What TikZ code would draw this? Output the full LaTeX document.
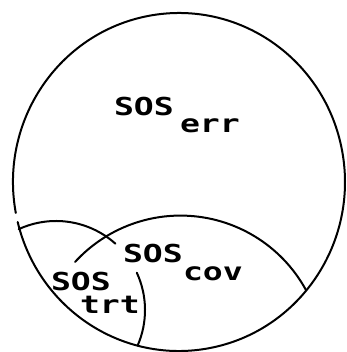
\documentclass[tikz,border=0pt]{standalone}
\usepackage{fontspec}
% wide typewriter-like face for the set labels
\newfontfamily\typewriter[FakeStretch=1.34]{DejaVu Sans Mono}
\begin{document}
\begin{tikzpicture}[x=1pt, y=-1pt, line width=2pt, line cap=round, line join=round,
  lbl/.style={font=\typewriter\bfseries\fontsize{24.7}{28}\selectfont, inner sep=0pt, anchor=base west}]
\useasboundingbox (0,0) rectangle (346,352);

% outer set, with a small break on the left
\coordinate (outerA) at (15.8,213.0);
\draw (outerA) arc[start angle=169.43, end angle=526.31, x radius=166, y radius=169];

% boundary of the covered subset
\coordinate (covR) at (305.9,289.9);
\draw (covR) arc[start angle=-28.7, end angle=-137.5, radius=143];

% boundary of the treated subset, interrupted by the label
\coordinate (trtA) at (18.7,229.2);
\coordinate (trtB) at (136.8,272.7);
\draw (trtA) arc[start angle=-114.8, end angle=-48.2, radius=89];
\draw (trtB) arc[start angle=-24.8, end angle=23.5, radius=89];

% labels
\node[lbl] (err) at (113,116) {SOS};
\node[lbl] (errsub) at (179,133) {err};
\node[lbl] (cov) at (122,262) {SOS};
\node[lbl] (covsub) at (182,280) {cov};
\node[lbl] (trt) at (50,290) {SOS};
\node[lbl] (trtsub) at (79,313) {trt};
\end{tikzpicture}
\end{document}
